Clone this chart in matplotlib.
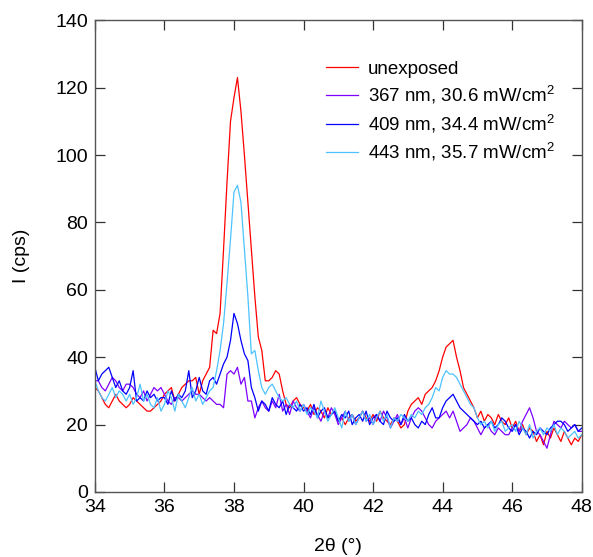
import numpy as np
import matplotlib
matplotlib.use('Agg')
import matplotlib.pyplot as plt

plt.rcParams['font.family'] = ['Liberation Sans', 'DejaVu Sans']
plt.rcParams['mathtext.fontset'] = 'custom'
plt.rcParams['mathtext.rm'] = 'Liberation Sans'

# 2theta grid, 0.1 deg step
two_theta = np.round(np.arange(34.0, 48.05, 0.1), 1)

unexposed = [
    31, 30, 28, 26, 25, 27, 29, 27, 26, 25,
    26, 28, 27, 26, 25, 24, 24, 25, 26, 27,
    29, 30, 31, 27, 29, 31, 32, 33, 33, 34,
    29, 33, 35, 37, 48, 47, 53, 72, 92, 110,
    117, 123, 113, 100, 86, 72, 58, 46, 42, 33,
    33, 34, 36, 35, 30, 26, 25, 27, 28, 26,
    25, 24, 26, 23, 25, 24, 22, 25, 23, 24,
    21, 22, 20, 22, 23, 21, 22, 24, 22, 21,
    23, 21, 24, 22, 21, 20, 22, 21, 19, 20,
    24, 26, 27, 28, 26, 29, 30, 31, 33, 36,
    40, 43, 44, 45, 40, 36, 31, 29, 27, 25,
    22, 24, 21, 23, 22, 20, 23, 21, 20, 22,
    19, 21, 18, 20, 17, 19, 18, 15, 17, 14,
    18, 16, 19, 17, 15, 18, 16, 14, 16, 15,
    17,
]

nm367 = [
    33, 33, 31, 30, 32, 34, 33, 31, 30, 32,
    32, 31, 29, 28, 30, 27, 29, 31, 30, 31,
    29, 27, 26, 28, 28, 27, 28, 29, 30, 29,
    29, 28, 27, 28, 27, 26, 26, 25, 35, 36,
    35, 37, 32, 34, 27, 27, 22, 25, 27, 25,
    24, 27, 25, 29, 24, 26, 23, 27, 25, 24,
    26, 24, 22, 25, 23, 21, 24, 22, 25, 23,
    20, 22, 24, 21, 23, 20, 22, 24, 21, 22,
    20, 23, 21, 24, 22, 19, 21, 23, 20, 22,
    19, 22, 24, 25, 24, 22, 20, 19, 21, 22,
    23, 24, 22, 24, 21, 18, 19, 20, 22, 21,
    19, 17, 19, 20, 18, 17, 19, 18, 17, 17,
    19, 20, 18, 21, 23, 25, 22, 18, 17, 15,
    13, 17, 21, 20, 19, 21, 20, 19, 20, 18,
    18,
]

nm409 = [
    37, 33, 35, 36, 37, 34, 31, 33, 30, 29,
    31, 36, 27, 28, 27, 30, 28, 29, 27, 28,
    28, 26, 30, 27, 29, 28, 30, 36, 28, 30,
    34, 30, 29, 33, 34, 32, 35, 38, 40, 45,
    53, 50, 45, 41, 39, 31, 28, 24, 27, 26,
    24, 28, 26, 25, 27, 23, 26, 25, 24, 26,
    24, 25, 23, 26, 22, 24, 25, 22, 23, 24,
    21, 23, 22, 24, 20, 22, 23, 21, 24, 20,
    22, 23, 21, 20, 24, 22, 21, 22, 20, 23,
    21, 22, 20, 19, 21, 20, 23, 25, 22, 22,
    25, 27, 28, 29, 27, 25, 24, 23, 22, 21,
    20, 21, 19, 20, 21, 19, 20, 22, 21, 19,
    18, 20, 17, 19, 18, 16, 18, 17, 19, 18,
    17, 19, 20, 21, 21, 20, 18, 19, 20, 18,
    19,
]

nm443 = [
    33, 30, 28, 27, 29, 31, 28, 30, 29, 27,
    29, 26, 28, 32, 27, 29, 26, 25, 28, 24,
    26, 30, 28, 24, 29, 27, 25, 28, 31, 27,
    29, 26, 28, 30, 31, 36, 42, 50, 62, 75,
    89, 91, 86, 72, 58, 41, 42, 36, 31, 29,
    31, 32, 30, 28, 27, 28, 26, 25, 27, 24,
    26, 23, 25, 24, 22, 27, 24, 21, 23, 25,
    22, 19, 24, 21, 23, 20, 22, 24, 21, 23,
    20, 22, 24, 21, 23, 19, 22, 21, 23, 22,
    21, 23, 22, 24, 23, 25, 26, 28, 31, 30,
    34, 36, 35, 35, 34, 32, 30, 28, 26, 25,
    22, 20, 21, 19, 21, 18, 20, 21, 18, 19,
    20, 18, 21, 19, 17, 20, 16, 18, 19, 17,
    19, 18, 20, 17, 19, 18, 16, 17, 18, 16,
    17,
]

labels = ['unexposed',
          '367 nm, 30.6 mW/cm$^2$',
          '409 nm, 34.4 mW/cm$^2$',
          '443 nm, 35.7 mW/cm$^2$']
colors = ['#ff0000', '#7f00ff', '#0000ff', '#4cc3ff']

fig = plt.figure(figsize=(5.93, 5.57), dpi=100)
ax = fig.add_axes([0.160, 0.1167, 0.821, 0.847])

for ys, lab, c in zip([unexposed, nm367, nm409, nm443], labels, colors):
    ax.plot(two_theta, ys, color=c, lw=0.9, label=lab)

ax.set_xlim(34, 48)
ax.set_ylim(0, 140)
ax.set_xticks(np.arange(34, 49, 2))
ax.set_yticks(np.arange(0, 141, 20))
ax.tick_params(direction='in', length=7, width=0.9, color='#333333',
               top=True, right=True, labelsize=14, pad=5)
for sp in ax.spines.values():
    sp.set_color('#555555')
    sp.set_linewidth(1.0)

ax.set_xlabel('2θ (°)', fontsize=14, labelpad=16)
ax.set_ylabel('I (cps)', fontsize=14, labelpad=18)

ax.legend(loc='upper left', bbox_to_anchor=(0.474, 0.914), frameon=False,
          fontsize=13.5, handlelength=1.75, handletextpad=0.5,
          labelspacing=0.30, borderpad=0, borderaxespad=0)

fig.savefig('out.png', dpi=100)
